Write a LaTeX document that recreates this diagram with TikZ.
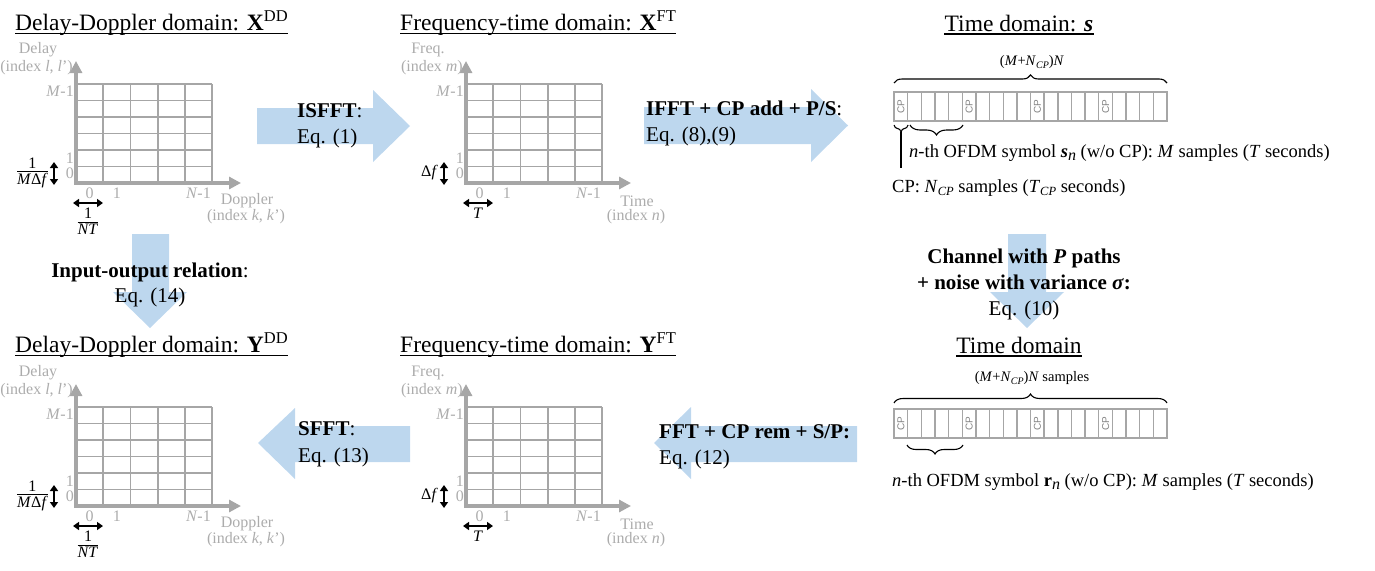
\documentclass[tikz,border=0pt]{standalone}
\usepackage{fontspec}
\setmainfont{Liberation Serif}
\setsansfont{Liberation Sans}
\usetikzlibrary{arrows.meta,decorations.pathreplacing}
\definecolor{gridgray}{RGB}{166,166,166}
\definecolor{lblgray}{RGB}{172,172,172}
\definecolor{cpgray}{RGB}{130,130,130}
\definecolor{flowblue}{RGB}{189,215,238}
\newcommand{\fsz}[1]{\fontsize{#1}{#1}\selectfont}
\newcommand{\supr}[1]{\raisebox{8.5pt}{\fsz{16.5}#1}}
\newcommand{\subr}[2]{\raisebox{-3pt}{\fsz{#1}#2}}
\newcommand{\vfrac}[2]{{\setlength{\arrayrulewidth}{1.1pt}\renewcommand{\arraystretch}{0.85}\setlength{\tabcolsep}{0pt}%
  \begin{tabular}{c}#1\\[-1pt]\hline\rule{0pt}{12pt}#2\end{tabular}}}
\tikzset{
  gridline/.style={draw=gridgray, line width=1.8pt},
  axisline/.style={draw=gridgray, line width=3.5pt, {Triangle[width=12pt,length=12pt]}-{Triangle[width=12pt,length=12pt]}},
  glabel/.style={text=lblgray, font=\fsz{16}, inner sep=1pt},
  dblarrow/.style={line width=2pt, {Triangle[length=6pt,width=8pt]}-{Triangle[length=6pt,width=8pt]}},
  title/.style={font=\fsz{23.5}, inner sep=0pt},
  uline/.style={line width=1.4pt},
  body/.style={font=\fsz{21}, inner sep=0pt},
  note/.style={font=\fsz{18.5}, inner sep=0pt},
  small/.style={font=\fsz{14.5}, inner sep=0pt},
  sbox/.style={draw=gridgray, line width=1.4pt},
  cplabel/.style={rotate=90, font=\sffamily\fsz{10}, text=cpgray, inner sep=0pt},
  brc/.style={decorate, decoration={brace, amplitude=#1}, line width=1.1pt},
  brc/.default=8pt,
  flow/.style={fill=flowblue},
  spacelbl/.style={inner sep=0pt, font=\fsz{16}}
}
% grid macro: #1 x, #2 y, #3 prefix, #4 y word, #5 y index, #6 y spacing, #7 x spacing, #8 x word, #9 x index
\newcommand{\ogrid}[9]{%
\begin{scope}[shift={(#1,#2)}]
  \foreach \c in {1,...,5} \draw[gridline] (\c*27.2,0) -- (\c*27.2,-99);
  \foreach \r in {1,...,6} \draw[gridline] (0,-\r*16.5) -- (136,-\r*16.5);
  \draw[axisline] (0,-122) -- (0,0) -- (165,0);
  \node[glabel,anchor=east] (#3-m) at (-1,-92) {\textit{M}-1};
  \node[glabel,anchor=east] (#3-one) at (-1,-25) {1};
  \node[glabel,anchor=east] (#3-zero) at (-1,-10) {0};
  \node[glabel] (#3-n0) at (13.6,10) {0};
  \node[glabel] (#3-n1) at (40.8,10) {1};
  \node[glabel] (#3-nn) at (122.4,10) {\textit{N}-1};
  \node[glabel] (#3-yw) at (-38,-133) {#4};
  \node[glabel,anchor=east] (#3-yi) at (-2,-115) {#5};
  \node[glabel] (#3-xw) at (171,18) {#8};
  \node[glabel] (#3-xi) at (170,34) {#9};
  \coordinate (#3-va) at (-22,-21);
  \coordinate (#3-vb) at (-22,2);
  \draw[dblarrow] (#3-va) -- (#3-vb);
  \node[spacelbl,anchor=east] (#3-vl) at (-28,-10) {#6};
  \coordinate (#3-ha) at (-3,20);
  \coordinate (#3-hb) at (27,20);
  \draw[dblarrow] (#3-ha) -- (#3-hb);
  \node[spacelbl,anchor=north] (#3-hl) at (12,25) {#7};
\end{scope}}
% sample boxes: #1 top y, #2 prefix
\newcommand{\sboxes}[2]{%
  \foreach \i in {0,...,19} {\draw[sbox] ({894+\i*13.65},#1) rectangle ++(13.65,29);}
  \foreach \i in {0,5,10,15} {\node[cplabel] (#2-cp\i) at ({894+\i*13.65+6.8},{#1+14.5}) {CP};}
}
\begin{document}
\begin{tikzpicture}[x=1pt,y=-1pt]
\useasboundingbox (0,0) rectangle (1375,570);

% ---- blue flow arrows ----
\fill[flow] (257,108) -- (373,108) -- (373,90) -- (410,126) -- (373,162) -- (373,144) -- (257,144) -- cycle;
\fill[flow] (644,107) -- (811,107) -- (811,89) -- (848,125.5) -- (811,162) -- (811,144) -- (644,144) -- cycle;
\fill[flow] (1008,234) -- (1046,234) -- (1046,292) -- (1064,292) -- (1027,328) -- (990,292) -- (1008,292) -- cycle;
\fill[flow] (132,234) -- (169,234) -- (169,292) -- (187,292) -- (150,328) -- (113,292) -- (132,292) -- cycle;
\fill[flow] (410,426) -- (295,426) -- (295,408) -- (258,443) -- (295,479) -- (295,462) -- (410,462) -- cycle;
\fill[flow] (857,426) -- (691,426) -- (691,407) -- (654,443) -- (691,479) -- (691,462) -- (857,462) -- cycle;

% ---- titles ----
\node[title,anchor=base west] (t1) at (15,30) {Delay-Doppler domain: \textbf{X}\supr{DD}};
\draw[uline] ([yshift=-3.5pt]t1.base west) -- ([yshift=-3.5pt]t1.base east);
\node[title,anchor=base west] (t2) at (400,30) {Frequency-time domain: \textbf{X}\supr{FT}};
\draw[uline] ([yshift=-3.5pt]t2.base west) -- ([yshift=-3.5pt]t2.base east);
\node[title,anchor=base] (t3) at (1019,31) {Time domain: \textbf{\textit{s}}};
\draw[uline] ([yshift=-3pt]t3.base west) -- ([yshift=-3pt]t3.base east);
\node[title,anchor=base west] (t4) at (15,352) {Delay-Doppler domain: \textbf{Y}\supr{DD}};
\draw[uline] ([yshift=-3.5pt]t4.base west) -- ([yshift=-3.5pt]t4.base east);
\node[title,anchor=base west] (t5) at (400,352) {Frequency-time domain: \textbf{Y}\supr{FT}};
\draw[uline] ([yshift=-3.5pt]t5.base west) -- ([yshift=-3.5pt]t5.base east);
\node[title,anchor=base] (t6) at (1019,353) {Time domain};
\draw[uline] ([yshift=-3pt]t6.base west) -- ([yshift=-3pt]t6.base east);

% ---- grids ----
\ogrid{76}{183}{xdd}{Delay}{(index \textit{l}, \textit{l}’)}{\vfrac{1}{\textit{M}Δ\textit{f}}}{\vfrac{1}{\textit{NT}}}{Doppler}{(index \textit{k}, \textit{k}’)}
\ogrid{466}{183}{xft}{Freq.}{(index \textit{m})}{Δ\textit{f}}{\textit{T}}{Time}{(index \textit{n})}
\ogrid{76}{506}{ydd}{Delay}{(index \textit{l}, \textit{l}’)}{\vfrac{1}{\textit{M}Δ\textit{f}}}{\vfrac{1}{\textit{NT}}}{Doppler}{(index \textit{k}, \textit{k}’)}
\ogrid{466}{506}{yft}{Freq.}{(index \textit{m})}{Δ\textit{f}}{\textit{T}}{Time}{(index \textit{n})}

% ---- arrow labels ----
\node[body,anchor=base west] (isfft) at (297,117) {\textbf{ISFFT}:};
\node[body,anchor=base west] (isffteq) at (297,143) {Eq. (1)};
\node[body,anchor=base west] (ifft) at (646,115) {\textbf{IFFT + CP add + P/S}:};
\node[body,anchor=base west] (ifften) at (646,141) {Eq. (8),(9)};
\node[body,anchor=base] (ch1) at (1024,263) {\textbf{Channel with \textit{P} paths}};
\node[body,anchor=base] (ch2) at (1024,289) {\textbf{+ noise with variance \textit{σ}:}};
\node[body,anchor=base] (ch3) at (1024,315) {Eq. (10)};
\node[body,anchor=base] (io1) at (150,277) {\textbf{Input-output relation}:};
\node[body,anchor=base] (io2) at (150,302) {Eq. (14)};
\node[body,anchor=base west] (sfft) at (298,435) {\textbf{SFFT}:};
\node[body,anchor=base west] (sffteq) at (298,462) {Eq. (13)};
\node[body,anchor=base west] (fft) at (659,438) {\textbf{FFT + CP rem + S/P:}};
\node[body,anchor=base west] (ffteq) at (659,464) {Eq. (12)};

% ---- transmit time domain ----
\sboxes{92}{s}
\draw[brc] (894,83) -- (1167,83);
\node[small] (slen) at (1032,62) {(\textit{M}+\textit{N}\subr{10}{\textit{CP}})\textit{N}};
\draw[brc=7pt] (908,125) -- (894,125);
\draw[brc=10pt] (963,125) -- (910,125);
\coordinate (cptip) at (901,132);
\coordinate (cpend) at (901,168);
\draw[line width=1.1pt] (cptip) -- (cpend);
\node[note,anchor=base west] (ssym) at (909,157) {\textit{n}-th OFDM symbol \textbf{\textit{s}}\subr{16}{\textit{n}} (w/o CP): \textit{M} samples (\textit{T} seconds)};
\node[note,anchor=base west] (scp) at (892,192) {CP: \textit{N}\subr{12.5}{\textit{CP}} samples (\textit{T}\subr{12.5}{\textit{CP}} seconds)};

% ---- receive time domain ----
\sboxes{409}{r}
\draw[brc=9pt] (894,403) -- (1167,403);
\node[small] (rlen) at (1032,378) {(\textit{M}+\textit{N}\subr{10}{\textit{CP}})\textit{N} samples};
\draw[brc=9pt] (963,445) -- (907,445);
\node[note,anchor=base west] (rsym) at (892,486) {\textit{n}-th OFDM symbol \textbf{r}\subr{16}{\textit{n}} (w/o CP): \textit{M} samples (\textit{T} seconds)};
\end{tikzpicture}
\end{document}
